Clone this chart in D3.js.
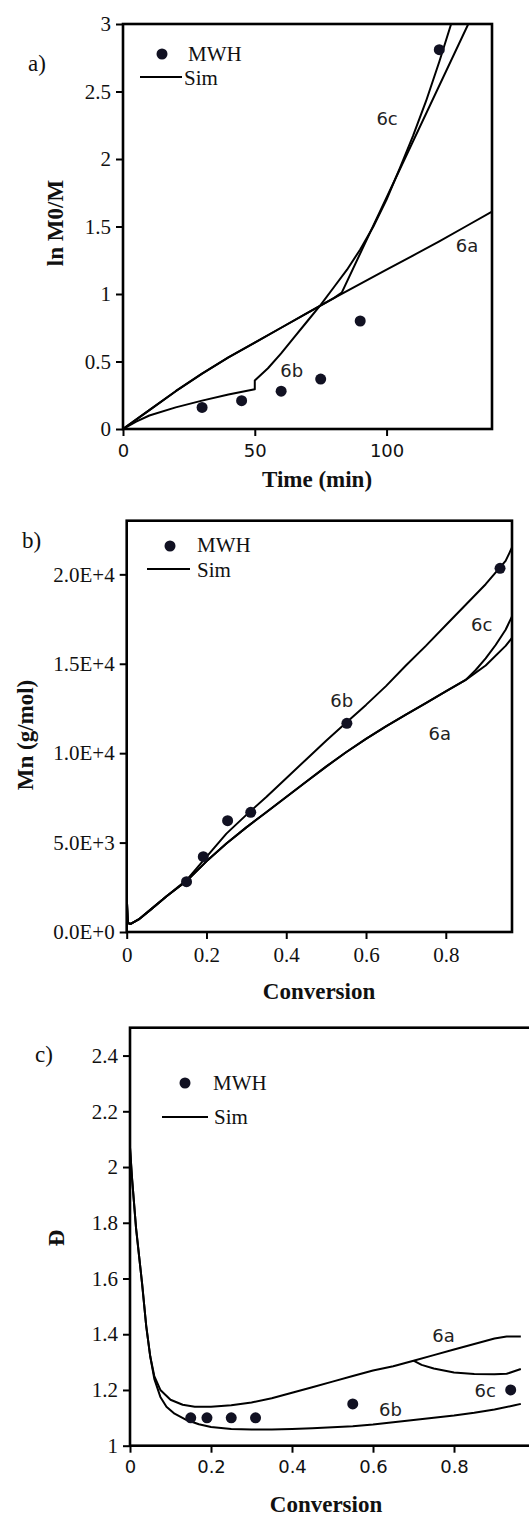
<!DOCTYPE html>
<html>
<head>
<meta charset="utf-8">
<script src="https://cdn.jsdelivr.net/npm/d3@7"></script>
<style>
  html, body { margin: 0; padding: 0; background: #fff; }
  svg { display: block; }
</style>
</head>
<body>
<svg id="chart" width="529" height="1517"></svg>
<script>
// ---------------- DATA ----------------
// Panel a) ln(M0/M) vs time (min)
const aMwhTime = [30, 45, 60, 75, 90, 120];
const aMwhVal  = [0.16, 0.21, 0.28, 0.37, 0.80, 2.81];
const a6aTime = [0, 10, 20, 30, 40, 50, 60, 70, 80, 90, 100, 110, 120, 130, 140];
const a6aVal  = [0, 0.14, 0.28, 0.41, 0.53, 0.64, 0.75, 0.86, 0.97, 1.075, 1.18, 1.285, 1.39, 1.5, 1.61];
const a6bTime = [0, 5, 10, 20, 30, 40, 50, 50, 55, 60, 65, 70, 75, 80, 85, 90, 95, 100, 105, 110, 115, 120, 124.5];
const a6bVal  = [0, 0.055, 0.1, 0.16, 0.21, 0.255, 0.295, 0.36, 0.45, 0.56, 0.68, 0.8, 0.92, 1.05, 1.18, 1.33, 1.5, 1.7, 1.93, 2.17, 2.43, 2.72, 3.0];
const a6cTime = [0, 10, 20, 30, 40, 50, 60, 70, 80, 83, 131];
const a6cVal  = [0, 0.14, 0.28, 0.41, 0.53, 0.64, 0.75, 0.86, 0.97, 1.01, 3.0];
const aXTicks = [0, 50, 100];
const aYTicks = [0, 0.5, 1, 1.5, 2, 2.5, 3];
const aYTickLabels = ["0", "0.5", "1", "1.5", "2", "2.5", "3"];

// Panel b) Mn (g/mol) vs conversion
const bMwhConv = [0.15, 0.192, 0.253, 0.311, 0.552, 0.936];
const bMwhMn   = [2813, 4212, 6225, 6695, 11672, 20340];
const bSimConv = [0, 0.003, 0.01, 0.03, 0.06, 0.1, 0.15, 0.2, 0.25, 0.3, 0.35, 0.4, 0.45, 0.5, 0.55, 0.6, 0.65, 0.7, 0.75, 0.8, 0.85, 0.9, 0.95, 0.966];
const b6aMn = [2000, 500, 450, 700, 1250, 2000, 2850, 3950, 4950, 5850, 6700, 7550, 8400, 9250, 10050, 10800, 11500, 12150, 12800, 13450, 14100, 14900, 16000, 16450];
const b6bMn = [2000, 500, 450, 700, 1250, 2000, 2900, 4200, 5500, 6550, 7550, 8600, 9650, 10700, 11700, 12700, 13750, 14900, 16000, 17150, 18300, 19450, 20750, 21500];
const b6cConv = [0, 0.003, 0.01, 0.03, 0.06, 0.1, 0.15, 0.2, 0.25, 0.3, 0.35, 0.4, 0.45, 0.5, 0.55, 0.6, 0.65, 0.7, 0.75, 0.8, 0.85, 0.875, 0.9, 0.925, 0.95, 0.966];
const b6cMn = [2000, 500, 450, 700, 1250, 2000, 2850, 3950, 4950, 5850, 6700, 7550, 8400, 9250, 10050, 10800, 11500, 12150, 12800, 13450, 14100, 14650, 15300, 16050, 16900, 17650];
const bXTicks = [0, 0.2, 0.4, 0.6, 0.8];
const bXTickLabels = ["0", "0.2", "0.4", "0.6", "0.8"];
const bYTicks = [0, 5000, 10000, 15000, 20000];
const bYTickLabels = ["0.0E+0", "5.0E+3", "1.0E+4", "1.5E+4", "2.0E+4"];

// Panel c) dispersity vs conversion
const cMwhConv = [0.15, 0.19, 0.25, 0.31, 0.55, 0.94];
const cMwhD    = [1.10, 1.10, 1.10, 1.10, 1.15, 1.20];
const c6aConv = [0, 0.005, 0.015, 0.03, 0.04, 0.05, 0.06, 0.075, 0.1, 0.13, 0.16, 0.2, 0.25, 0.3, 0.35, 0.4, 0.45, 0.5, 0.55, 0.6, 0.65, 0.7, 0.75, 0.8, 0.85, 0.9, 0.93, 0.965];
const c6aD    = [2.07, 1.96, 1.78, 1.58, 1.43, 1.32, 1.25, 1.2, 1.165, 1.147, 1.14, 1.14, 1.145, 1.155, 1.17, 1.19, 1.21, 1.23, 1.25, 1.27, 1.285, 1.305, 1.325, 1.345, 1.365, 1.385, 1.392, 1.392];
const c6bConv = [0, 0.005, 0.015, 0.03, 0.04, 0.05, 0.06, 0.075, 0.09, 0.11, 0.14, 0.17, 0.2, 0.25, 0.3, 0.35, 0.4, 0.45, 0.5, 0.55, 0.6, 0.65, 0.7, 0.75, 0.8, 0.85, 0.9, 0.95, 0.965];
const c6bD    = [2.07, 1.96, 1.78, 1.58, 1.43, 1.32, 1.24, 1.175, 1.14, 1.115, 1.092, 1.077, 1.067, 1.06, 1.058, 1.058, 1.06, 1.063, 1.066, 1.07, 1.076, 1.084, 1.092, 1.1, 1.108, 1.118, 1.13, 1.145, 1.15];
const c6cConv = [0.7, 0.72, 0.75, 0.8, 0.85, 0.9, 0.93, 0.965];
const c6cD    = [1.305, 1.29, 1.277, 1.263, 1.257, 1.256, 1.258, 1.275];
const cXTicks = [0, 0.2, 0.4, 0.6, 0.8];
const cXTickLabels = ["0", "0.2", "0.4", "0.6", "0.8"];
const cYTicks = [1, 1.2, 1.4, 1.6, 1.8, 2, 2.2, 2.4];
const cYTickLabels = ["1", "1.2", "1.4", "1.6", "1.8", "2", "2.2", "2.4"];

// ---------------- DRAWING ----------------
const SERIF = "'Liberation Serif', 'Times New Roman', serif";
const SANS = "'DejaVu Sans', Verdana, sans-serif";
const svg = d3.select("#chart");

function zip(xs, ys) { return xs.map((x, i) => [x, ys[i]]); }

function panel(cfg) {
  const g = svg.append("g");
  const x = d3.scaleLinear().domain(cfg.xDomain).range([cfg.L, cfg.R]);
  const y = d3.scaleLinear().domain(cfg.yDomain).range([cfg.B, cfg.T]);
  const clipId = "clip" + cfg.id;
  svg.append("clipPath").attr("id", clipId).append("rect")
    .attr("x", cfg.L).attr("y", cfg.T).attr("width", cfg.R - cfg.L).attr("height", cfg.B - cfg.T);

  // axes
  const xAxis = d3.axisBottom(x).tickValues(cfg.xTicks).tickSize(7).tickPadding(8)
    .tickFormat((d, i) => cfg.xTickLabels ? cfg.xTickLabels[i] : String(d));
  const yAxis = d3.axisLeft(y).tickValues(cfg.yTicks).tickSize(7).tickPadding(5)
    .tickFormat((d, i) => cfg.yTickLabels[i]);
  const gx = g.append("g").attr("transform", `translate(0,${cfg.B})`).call(xAxis);
  const gy = g.append("g").attr("transform", `translate(${cfg.L},0)`).call(yAxis);
  [gx, gy].forEach(a => {
    a.select(".domain").remove();
    a.selectAll(".tick line").attr("stroke", "#000").attr("stroke-width", 2);
  });
  gx.selectAll(".tick text").attr("font-family", cfg.xFont).attr("font-size", cfg.xFontSize).attr("fill", "#111");
  gy.selectAll(".tick text").attr("font-family", SERIF).attr("font-size", 21).attr("fill", "#111");

  // frame
  g.append("rect").attr("x", cfg.L).attr("y", cfg.T)
    .attr("width", cfg.R - cfg.L).attr("height", cfg.B - cfg.T)
    .attr("fill", "none").attr("stroke", "#000").attr("stroke-width", 2.6);

  // sim lines
  const line = d3.line().x(d => x(d[0])).y(d => y(d[1]));
  const lg = g.append("g").attr("clip-path", `url(#${clipId})`);
  cfg.lines.forEach(pts => {
    lg.append("path").attr("d", line(pts)).attr("fill", "none")
      .attr("stroke", "#000").attr("stroke-width", 2).attr("stroke-linejoin", "round");
  });
  // points
  g.append("g").selectAll("circle").data(cfg.points).join("circle")
    .attr("cx", d => x(d[0])).attr("cy", d => y(d[1])).attr("r", 5.5).attr("fill", "#111122");

  // curve labels
  cfg.labels.forEach(l => {
    g.append("text").attr("x", x(l.x)).attr("y", y(l.y)).attr("text-anchor", "middle")
      .attr("font-family", SANS).attr("font-size", 18).attr("fill", "#222").text(l.t);
  });

  // legend
  const lgd = cfg.legend;
  g.append("circle").attr("cx", lgd.dot[0]).attr("cy", lgd.dot[1]).attr("r", 5.5).attr("fill", "#111122");
  g.append("text").attr("x", lgd.mwh[0]).attr("y", lgd.mwh[1]).attr("font-family", SERIF)
    .attr("font-size", 21).attr("fill", "#111").text("MWH");
  g.append("line").attr("x1", lgd.line[0]).attr("x2", lgd.line[1]).attr("y1", lgd.line[2]).attr("y2", lgd.line[2])
    .attr("stroke", "#000").attr("stroke-width", 2.2);
  g.append("text").attr("x", lgd.sim[0]).attr("y", lgd.sim[1]).attr("font-family", SERIF)
    .attr("font-size", 21).attr("fill", "#111").text("Sim");

  // panel letter
  g.append("text").attr("x", cfg.letter[0]).attr("y", cfg.letter[1]).attr("font-family", SERIF)
    .attr("font-size", 23).attr("fill", "#111").text(cfg.letter[2]);

  // axis titles
  g.append("text").attr("x", cfg.xTitle[0]).attr("y", cfg.xTitle[1]).attr("text-anchor", "middle")
    .attr("font-family", SERIF).attr("font-weight", "bold").attr("font-size", 23).attr("fill", "#111").text(cfg.xTitle[2]);
  g.append("text").attr("transform", `translate(${cfg.yTitle[0]},${cfg.yTitle[1]}) rotate(-90)`)
    .attr("text-anchor", "middle").attr("font-family", SERIF).attr("font-weight", "bold")
    .attr("font-size", 23).attr("fill", "#111").text(cfg.yTitle[2]);
}

// Panel a
panel({
  id: "a", L: 123, R: 492, T: 24, B: 429,
  xDomain: [0, 140], yDomain: [0, 3],
  xTicks: aXTicks, yTicks: aYTicks, yTickLabels: aYTickLabels,
  xFont: SANS, xFontSize: 18,
  lines: [zip(a6aTime, a6aVal), zip(a6bTime, a6bVal), zip(a6cTime, a6cVal)],
  points: zip(aMwhTime, aMwhVal),
  labels: [{t: "6c", x: 100.2, y: 2.25}, {t: "6a", x: 130.5, y: 1.31}, {t: "6b", x: 64, y: 0.385}],
  legend: {dot: [162, 54], mwh: [188, 61], line: [140, 182, 77], sim: [184, 85]},
  letter: [28, 71, "a)"],
  xTitle: [317, 487, "Time (min)"],
  yTitle: [63, 223, "ln M0/M"]
});

// Panel b
panel({
  id: "b", L: 126.7, R: 512, T: 520.7, B: 932,
  xDomain: [0, 0.966], yDomain: [0, 23000],
  xTicks: bXTicks, xTickLabels: bXTickLabels, yTicks: bYTicks, yTickLabels: bYTickLabels,
  xFont: SERIF, xFontSize: 21,
  lines: [zip(bSimConv, b6aMn), zip(bSimConv, b6bMn), zip(b6cConv, b6cMn)],
  points: zip(bMwhConv, bMwhMn),
  labels: [{t: "6b", x: 0.539, y: 12599}, {t: "6a", x: 0.785, y: 10737}, {t: "6c", x: 0.89, y: 16848}],
  legend: {dot: [170, 546], mwh: [197, 552], line: [147, 190, 569], sim: [197, 577]},
  letter: [22, 548, "b)"],
  xTitle: [319, 999, "Conversion"],
  yTitle: [33, 735, "Mn (g/mol)"]
});

// Panel c
panel({
  id: "c", L: 130, R: 535, T: 1027.7, B: 1445.7,
  xDomain: [0, 1], yDomain: [1, 2.5],
  xTicks: cXTicks, xTickLabels: cXTickLabels, yTicks: cYTicks, yTickLabels: cYTickLabels,
  xFont: SANS, xFontSize: 18,
  lines: [zip(c6aConv, c6aD), zip(c6bConv, c6bD), zip(c6cConv, c6cD)],
  points: zip(cMwhConv, cMwhD),
  labels: [{t: "6a", x: 0.774, y: 1.373}, {t: "6b", x: 0.643, y: 1.108}, {t: "6c", x: 0.877, y: 1.176}],
  legend: {dot: [185, 1083], mwh: [213, 1090], line: [162, 208, 1117], sim: [214, 1124]},
  letter: [35, 1062, "c)"],
  xTitle: [326, 1512, "Conversion"],
  yTitle: [64, 1238, "Đ"]
});
</script>
</body>
</html>
